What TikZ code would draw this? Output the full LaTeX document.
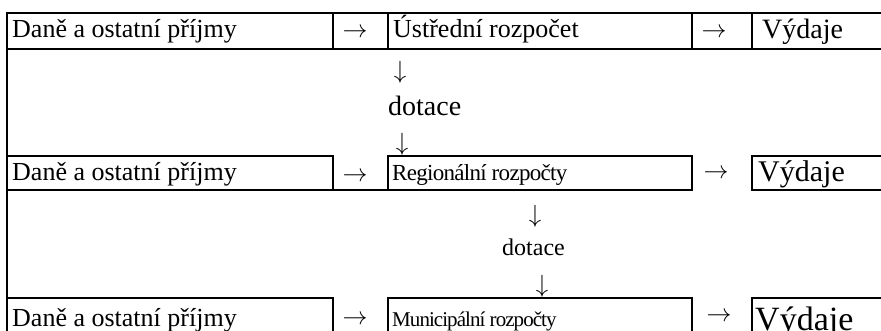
\documentclass[tikz,border=0pt]{standalone}
\usepackage{fontspec}
\setmainfont{Liberation Serif}
\newcommand\tabfs[1]{\fontsize{#1}{#1}\selectfont}
\begin{document}
\begin{tikzpicture}[x=1pt,y=-1pt,
  rule/.style={line width=2pt, line cap=rect, line join=miter},
  cell/.style={anchor=base west, inner sep=0pt, font=\tabfs{26}},
  glyph/.style={anchor=center, inner sep=0pt, font=\tabfs{24}}]
\useasboundingbox (0,0) rectangle (881,331);

% ---- table rules ----
% row 1: fully ruled
\draw[rule] (7,13) -- (881,13);
\draw[rule] (7,49) -- (881,49);
\draw[rule] (7,13) -- (7,331);
\foreach \x in {333,388,692,752} \draw[rule] (\x,13) -- (\x,49);
% row 2
\draw[rule] (7,156) -- (333,156) -- (333,190);
\draw[rule] (388,190) -- (388,156) -- (692,156) -- (692,190);
\draw[rule] (752,190) -- (752,156) -- (881,156);
\draw[rule] (7,190) -- (692,190);
\draw[rule] (752,190) -- (881,190);
% row 3
\draw[rule] (7,298) -- (333,298) -- (333,331);
\draw[rule] (388,331) -- (388,298) -- (692,298) -- (692,331);
\draw[rule] (752,331) -- (752,298) -- (881,298);

% ---- row 1: central budget ----
\node[cell] (inc1) at (12,38) {Daně a ostatní příjmy};
\node[glyph] (a1l) at (355,33) {$\rightarrow$};
\node[cell] (cent) at (393,38) {Ústřední rozpočet};
\node[glyph] (a1r) at (714,33) {$\rightarrow$};
\node[cell, font=\tabfs{28}] (exp1) at (762,39) {Výdaje};

% grants to regions
\node[glyph] (d1a) at (400,72) {$\downarrow$};
\node[cell, font=\tabfs{28}] (grant1) at (388,116) {dotace};
\node[glyph] (d1b) at (402,144) {$\downarrow$};

% ---- row 2: regional budgets ----
\node[cell] (inc2) at (12,181) {Daně a ostatní příjmy};
\node[glyph] (a2l) at (355,177) {$\rightarrow$};
\node[cell, font=\tabfs{23}] (reg) at (392,181) {\addfontfeature{LetterSpace=-3.1}Regionální rozpočty};
\node[glyph] (a2r) at (716,174) {$\rightarrow$};
\node[cell, font=\tabfs{30}] (exp2) at (758,182) {Výdaje};

% grants to municipalities
\node[glyph] (d2a) at (535,216) {$\downarrow$};
\node[cell, font=\tabfs{24}] (grant2) at (502,255) {dotace};
\node[glyph] (d2b) at (542,286) {$\downarrow$};

% ---- row 3: municipal budgets ----
\node[cell] (inc3) at (12,326) {Daně a ostatní příjmy};
\node[glyph] (a3l) at (355,320) {$\rightarrow$};
\node[cell, font=\tabfs{21}] (mun) at (392,326) {\addfontfeature{LetterSpace=-4.5}Municipální rozpočty};
\node[glyph] (a3r) at (719,317) {$\rightarrow$};
\node[cell, font=\tabfs{34}] (exp3) at (755,330) {Výdaje};
\end{tikzpicture}
\end{document}
